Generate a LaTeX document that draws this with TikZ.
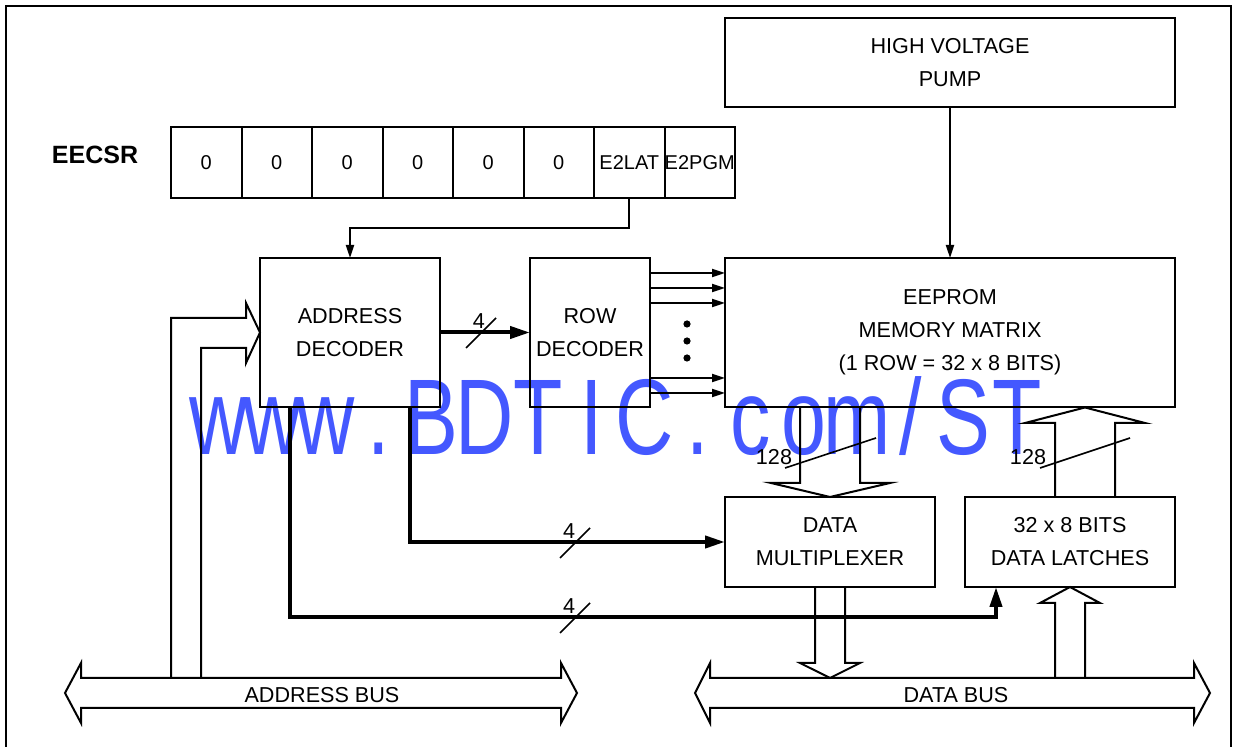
\documentclass[tikz,border=0pt]{standalone}
\usepackage{fontspec}
\setmainfont{Liberation Sans}
\usetikzlibrary{arrows.meta,positioning,calc}
\definecolor{wmblue}{RGB}{68,88,255}
\newcommand{\lbl}{\fontsize{10.8}{16.5}\selectfont}

\begin{document}
\begin{tikzpicture}[x=0.5pt,y=-0.5pt,
  box/.style={draw,line width=1pt,inner sep=0pt,outer sep=0pt,align=center,font=\lbl},
  cell/.style={box,minimum width=35.25pt,minimum height=35.5pt,font=\fontsize{10}{12}\selectfont},
  arr/.style={line width=1pt,-{Triangle[length=6.5pt,width=4pt]}},
  bold/.style={line width=2pt},
  boldarr/.style={bold,-{Triangle[length=10pt,width=6pt]}},
  hollow/.style={line width=1pt,line join=miter},
  slash/.style={line width=0.8pt},
  lbl/.style={font=\lbl,inner sep=0pt}]
  \useasboundingbox (0,0) rectangle (1237,747);
  \clip (0,0) rectangle (1237,747);

  % watermark
  \foreach \ch [count=\i from 0] in {w,w,w,.,B,D,T,I,C,.,c,o,m,{/},S,T}
    \node[anchor=base,inner sep=0pt,text=wmblue,font=\fontsize{53.8}{60}\selectfont] (wm\i) at (219+53.2*\i,455) {\scalebox{0.75}[1]{\ch}};

  % frame
  \draw[line width=1pt] (6,760) -- (6,6) -- (1231,6) -- (1231,760);

  % blocks
  \node[box,minimum width=225pt,minimum height=44.5pt] (pump) at (950,62.5) {HIGH VOLTAGE\\PUMP};
  \node[font=\fontsize{12.5}{15}\selectfont\bfseries,inner sep=0pt] (eecsr) at (95,155) {EECSR};
  \foreach \t [count=\i] in {0,0,0,0,0,0,E2LAT,E2PGM}
    \node[cell] (r\i) at (206.25+70.5*\i-70.5,162.5) {\t};
  \node[box,minimum width=90pt,minimum height=74.5pt] (addr) at (350,332.5) {ADDRESS\\DECODER};
  \node[box,minimum width=60pt,minimum height=74.5pt] (row) [right=45pt of addr] {ROW\\DECODER};
  \node[box,minimum width=225pt,minimum height=74.5pt] (eeprom) [right=37.5pt of row] {EEPROM\\MEMORY MATRIX\\(1 ROW = 32 x 8 BITS)};
  \node[box,minimum width=105pt,minimum height=45pt] (mux) [below=45pt of eeprom.south west,anchor=north west] {DATA\\MULTIPLEXER};
  \node[box,minimum width=105pt,minimum height=45pt] (lat) [right=15pt of mux] {32 x 8 BITS\\DATA LATCHES};

  % buses
  \draw[hollow] (81,678) -- (561,678) -- (561,663) -- (577,693) -- (561,723) -- (561,708)
    -- (81,708) -- (81,723) -- (65,693) -- (81,663) -- cycle;
  \node[lbl] (abus) at (322,695) {ADDRESS BUS};
  \draw[hollow] (710,678) -- (1194,678) -- (1194,663) -- (1210,693) -- (1194,723) -- (1194,708)
    -- (710,708) -- (710,723) -- (695,693) -- (710,663) -- cycle;
  \node[lbl] (dbus) at (956,695) {DATA BUS};

  % control lines
  \draw[arr] (r7.south) -- ++(0,30) -| (addr.north);
  \draw[arr] (pump.south) -- (eeprom.north);
  \foreach \y in {273,288,303,378,393}
    \draw[arr] (row.east |- 0,\y) -- (eeprom.west |- 0,\y);
  \foreach \y in {324,341,358}
    \fill (687,\y) circle[radius=1.8pt];

  % wide paths
  \draw[hollow] (171,678) -- (171,318) -- (246,318) -- (246,303) -- (addr.west)
    -- (246,363) -- (246,348) -- (201,348) -- (201,678);
  \draw[hollow] (800,407.5) -- (800,483) -- (771,483) -- (mux.north) -- (890,483) -- (860,483) -- (860,407.5);
  \draw[hollow] (1055,497.5) -- (1055,423) -- (1025,423) -- (1085,407.5) -- (1145,423) -- (1115,423) -- (1115,497.5);
  \draw[hollow] (815,587.5) -- (815,663) -- (800,663) -- (830,678) -- (860,663) -- (845,663) -- (845,587.5);
  \draw[hollow] (1055,678) -- (1055,603) -- (1040,603) -- (lat.south) -- (1100,603) -- (1085,603) -- (1085,678);
  \draw[slash] (785,468) -- (876,438);
  \node[lbl] (w128a) at (774,457) {128};
  \draw[slash] (1040,468) -- (1130,438);
  \node[lbl] (w128b) at (1028,457) {128};

  % 4-bit paths
  \draw[boldarr] (addr.east) -- (row.west);
  \draw[slash] (466,348) -- (496,318);
  \node[lbl] (n4a) at (479,321) {4};
  \draw[boldarr] ([xshift=30pt]addr.south) |- (mux.west);
  \draw[slash] (560,558) -- (590,528);
  \node[lbl] (n4b) at (569,531) {4};
  \draw[boldarr] ([xshift=-30pt]addr.south) -- ++(0,210) -| ([xshift=-37pt]lat.south);
  \draw[slash] (560,633) -- (590,603);
  \node[lbl] (n4c) at (569,606) {4};
\end{tikzpicture}
\end{document}
